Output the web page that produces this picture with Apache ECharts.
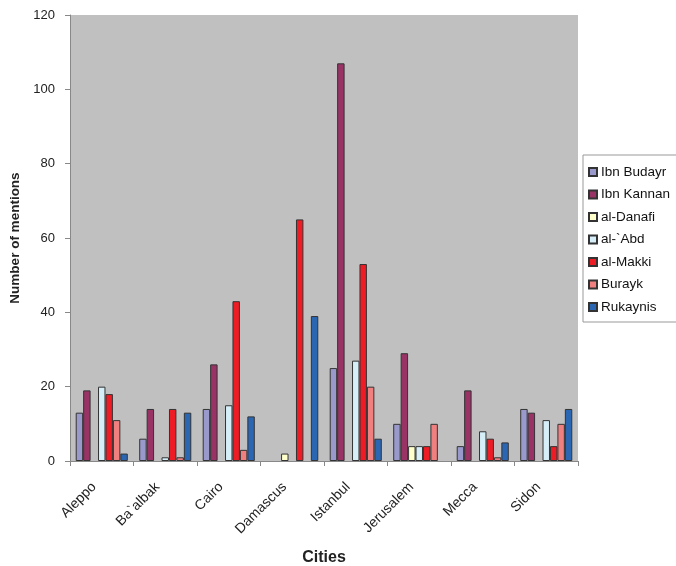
<!DOCTYPE html>
<html><head><meta charset="utf-8">
<script src="https://cdn.jsdelivr.net/npm/echarts@6/dist/echarts.min.js"></script>
<style>html,body{margin:0;padding:0;background:#fff}#c{width:676px;height:566px}</style>
</head><body><div id="c"></div>
<script>
var cities = ["Aleppo", "Ba`albak", "Cairo", "Damascus", "Istanbul", "Jerusalem", "Mecca", "Sidon"];
var seriesNames = ["Ibn Budayr", "Ibn Kannan", "al-Danafi", "al-`Abd", "al-Makki", "Burayk", "Rukaynis"];
var ibnBudayr = [13, 6, 14, 0, 25, 10, 4, 14];
var ibnKannan = [19, 14, 26, 0, 107, 29, 19, 13];
var alDanafi  = [0, 0, 0, 2, 0, 4, 0, 0];
var alAbd     = [20, 1, 15, 0, 27, 4, 8, 11];
var alMakki   = [18, 14, 43, 65, 53, 4, 6, 4];
var burayk    = [11, 1, 3, 0, 20, 10, 1, 10];
var rukaynis  = [2, 13, 12, 39, 6, 0, 5, 14];
var yTicks = [0, 20, 40, 60, 80, 100, 120];
var colors = ["#9999cc", "#993366", "#ffffcc", "#d6eef8", "#ee1c24", "#f08080", "#2b66b3"];
var allData = [ibnBudayr, ibnKannan, alDanafi, alAbd, alMakki, burayk, rukaynis];

var chart = echarts.init(document.getElementById('c'), null, {renderer: 'canvas'});
var series = seriesNames.map(function (n, i) {
  return {
    name: n, type: 'bar',
    // zero counts are drawn as no bar at all, as in the reference
    data: allData[i].map(function (v) { return v === 0 ? '-' : v; }),
    barGap: '0%', barCategoryGap: '18%',
    itemStyle: {color: colors[i], borderColor: '#333', borderWidth: 1}
  };
});
var font = 'Liberation Sans, Arial, sans-serif';
chart.setOption({
  animation: false,
  backgroundColor: '#ffffff',
  grid: {left: 70, right: 98, top: 15, bottom: 105, show: true, backgroundColor: '#c0c0c0', borderWidth: 0,
    containLabel: false, outerBoundsMode: 'none'},
  legend: {
    orient: 'vertical', left: 583, top: 155, itemWidth: 8, itemHeight: 8, itemGap: 8.5,
    backgroundColor: '#ffffff', borderColor: '#999', borderWidth: 1,
    padding: [10, 10, 8, 5],
    icon: 'rect',
    textStyle: {fontFamily: font, fontSize: 13.5, lineHeight: 14, color: '#111', padding: [0, 0, 0, -1]},
    data: seriesNames
  },
  xAxis: {
    type: 'category', data: cities,
    name: 'Cities', nameLocation: 'middle', nameGap: 89,
    nameTextStyle: {fontFamily: font, fontSize: 16, fontWeight: 'bold', color: '#222'},
    axisLine: {lineStyle: {color: '#888'}},
    axisTick: {show: true, alignWithLabel: false, length: 5, lineStyle: {color: '#888'}},
    axisLabel: {rotate: 45, fontFamily: font, fontSize: 14, color: '#222', margin: 16, interval: 0,
      padding: [0, 11, 0, 0]}
  },
  yAxis: {
    type: 'value', min: 0, max: 120, interval: 20,
    name: 'Number of mentions', nameLocation: 'middle', nameGap: 48, nameRotate: 90,
    nameTextStyle: {fontFamily: font, fontSize: 13.5, fontWeight: 'bold', color: '#222'},
    axisLine: {show: true, lineStyle: {color: '#888'}},
    axisTick: {show: true, length: 5, lineStyle: {color: '#888'}},
    splitLine: {show: false},
    axisLabel: {fontFamily: font, fontSize: 13, color: '#222', margin: 15,
      formatter: function (v) { return yTicks.indexOf(v) >= 0 ? String(v) : ''; }}
  },
  series: series
});
</script></body></html>
